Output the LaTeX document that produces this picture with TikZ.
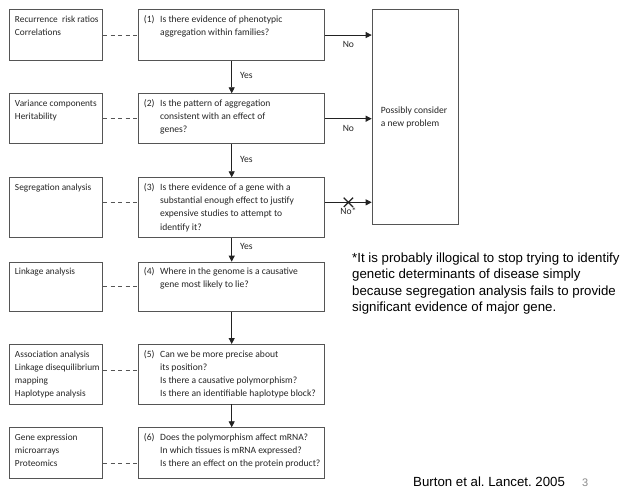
\documentclass[tikz,border=0pt]{standalone}
\usepackage{fontspec}
\setmainfont{Carlito}
\newfontfamily\arialf{Liberation Sans}
\usetikzlibrary{arrows.meta,calc,shapes.misc}
\definecolor{boxc}{HTML}{555555}
\definecolor{txtc}{HTML}{262626}
\definecolor{arrc}{HTML}{222222}
\definecolor{pgc}{HTML}{8A8A8A}
\newcommand{\qn}[1]{\makebox[16.3bp][l]{#1}}
\frenchspacing
\begin{document}
\begin{tikzpicture}[x=1bp,y=-1bp,
  lbox/.style={draw=boxc, line width=0.8bp, anchor=north west, inner sep=0, minimum width=93bp, minimum height=#1},
  mbox/.style={draw=boxc, line width=0.8bp, anchor=north west, inner sep=0, minimum width=186bp, minimum height=#1},
  btxt/.style={anchor=base west, inner sep=0, text=txtc, font=\fontsize{9.6}{13.3}\selectfont},
  ltxt/.style={btxt, font=\fontsize{9.35}{13.3}\selectfont},
  flow/.style={draw=arrc, line width=0.8bp, -{Triangle[length=6bp,width=6bp]}},
  dashline/.style={draw=boxc, line width=0.8bp, dash pattern=on 4bp off 3.5bp},
  lab/.style={inner sep=0, text=txtc, font=\fontsize{9.6}{11}\selectfont},
  crossmark/.style={cross out, draw=arrc, line width=1.3bp, minimum size=8bp, inner sep=0}
]
\useasboundingbox[fill=white] (0,0) rectangle (635,499);

% left boxes
\node[lbox=50.7bp] (l1) at (9.3,9.3) {};
\node[lbox=50bp]   (l2) at (9.3,93.3) {};
\node[lbox=59.4bp] (l3) at (9.3,177.3) {};
\node[lbox=49.3bp] (l4) at (9.3,261.7) {};
\node[lbox=59.5bp] (l5) at (9.3,344) {};
\node[lbox=51bp]   (l6) at (9.3,427.3) {};
% middle boxes
\node[mbox=50.7bp] (m1) at (138.3,9.3) {};
\node[mbox=50bp]   (m2) at (138.3,93.3) {};
\node[mbox=59.4bp] (m3) at (138.3,177.3) {};
\node[mbox=49.3bp] (m4) at (138.3,261.7) {};
\node[mbox=59.5bp] (m5) at (138.3,344) {};
\node[mbox=51bp]   (m6) at (138.3,427.3) {};
% right box
\node[draw=boxc, line width=0.8bp, anchor=north west, inner sep=0, minimum width=86.6bp, minimum height=214.7bp] (r) at (371.7,9.3) {};

% left texts
\node[ltxt] (tl1) at ([xshift=5.5bp,yshift=-13bp]l1.north west) {\begin{tabular}[t]{@{}l@{}}Recurrence\ \ risk ratios\\Correlations\end{tabular}};
\node[ltxt] (tl2) at ([xshift=5.5bp,yshift=-13bp]l2.north west) {\begin{tabular}[t]{@{}l@{}}Variance components\\Heritability\end{tabular}};
\node[ltxt] (tl3) at ([xshift=5.5bp,yshift=-13bp]l3.north west) {Segregation analysis};
\node[ltxt] (tl4) at ([xshift=5.5bp,yshift=-13bp]l4.north west) {Linkage analysis};
\node[ltxt] (tl5) at ([xshift=5.5bp,yshift=-13bp]l5.north west) {\begin{tabular}[t]{@{}l@{}}Association analysis\\Linkage disequilibrium\\mapping\\Haplotype analysis\end{tabular}};
\node[ltxt] (tl6) at ([xshift=5.5bp,yshift=-13bp]l6.north west) {\begin{tabular}[t]{@{}l@{}}Gene expression\\microarrays\\Proteomics\end{tabular}};

% middle texts
\node[btxt] (tm1) at ([xshift=5.4bp,yshift=-13bp]m1.north west) {\begin{tabular}[t]{@{}l@{}l@{}}\qn{(1)}&Is there evidence of phenotypic\\&aggregation within families?\end{tabular}};
\node[btxt] (tm2) at ([xshift=5.4bp,yshift=-13bp]m2.north west) {\begin{tabular}[t]{@{}l@{}l@{}}\qn{(2)}&Is the pattern of aggregation\\&consistent with an effect of\\&genes?\end{tabular}};
\node[btxt] (tm3) at ([xshift=5.4bp,yshift=-13bp]m3.north west) {\begin{tabular}[t]{@{}l@{}l@{}}\qn{(3)}&Is there evidence of a gene with a\\&substantial enough effect to justify\\&expensive studies to attempt to\\&identify it?\end{tabular}};
\node[btxt] (tm4) at ([xshift=5.4bp,yshift=-13bp]m4.north west) {\begin{tabular}[t]{@{}l@{}l@{}}\qn{(4)}&Where in the genome is a causative\\&gene most likely to lie?\end{tabular}};
\node[btxt] (tm5) at ([xshift=5.4bp,yshift=-13bp]m5.north west) {\begin{tabular}[t]{@{}l@{}l@{}}\qn{(5)}&Can we be more precise about\\&its position?\\&Is there a causative polymorphism?\\&Is there an identifiable haplotype block?\end{tabular}};
\node[btxt] (tm6) at ([xshift=5.4bp,yshift=-13bp]m6.north west) {\begin{tabular}[t]{@{}l@{}l@{}}\qn{(6)}&Does the polymorphism affect mRNA?\\&In which tissues is mRNA expressed?\\&Is there an effect on the protein product?\end{tabular}};

% right text
\node[btxt, anchor=west] (tr) at ([xshift=9bp]r.west) {\begin{tabular}{@{}l@{}}Possibly consider\\a new problem\end{tabular}};

% dashed links
\draw[dashline] (l1.east) -- (m1.west);
\draw[dashline] (l2.east) -- (m2.west);
\draw[dashline] ($(l3.north east)!0.416!(l3.south east)$) -- ($(m3.north west)!0.416!(m3.south west)$);
\draw[dashline] (l4.east) -- (m4.west);
\draw[dashline] ($(l5.north east)!0.44!(l5.south east)$) -- ($(m5.north west)!0.44!(m5.south west)$);
\draw[dashline] ($(l6.north east)!0.70!(l6.south east)$) -- ($(m6.north west)!0.70!(m6.south west)$);

% vertical flow
\draw[flow] (m1.south) -- node[lab, anchor=west, xshift=8bp, pos=0.45] (y1) {Yes} (m2.north);
\draw[flow] (m2.south) -- node[lab, anchor=west, xshift=8bp, pos=0.45] (y2) {Yes} (m3.north);
\draw[flow] (m3.south) -- node[lab, anchor=west, xshift=8bp, pos=0.38] (y3) {Yes} (m4.north);
\draw[flow] (m4.south) -- (m5.north);
\draw[flow] (m5.south) -- (m6.north);

% no arrows
\draw[flow] (m1.east) -- node[lab, anchor=north, yshift=-6bp] (n1) {No} (m1.east -| r.west);
\draw[flow] (m2.east) -- node[lab, anchor=north, yshift=-6bp] (n2) {No} (m2.east -| r.west);
\coordinate (m3o) at ($(m3.north east)!0.416!(m3.south east)$);
\draw[flow] (m3o) -- node[crossmark] (x3) {} node[lab, anchor=north, yshift=-5bp] (n3) {No*} (m3o -| r.west);

% note
\node[anchor=base west, inner sep=0, align=left, font=\arialf\fontsize{13.3}{16.4}\selectfont, text=black] (note) at (352,262.5) {\begin{tabular}[t]{@{}l@{}}*It is probably illogical to stop trying to identify\\genetic determinants of disease simply\\because segregation analysis fails to provide\\significant evidence of major gene.\end{tabular}};
\node[anchor=base west, inner sep=0, font=\arialf\fontsize{13.3}{16}\selectfont, text=black] (cite) at (413,486.5) {Burton et al. Lancet. 2005};
\node[anchor=base west, inner sep=0, font=\arialf\fontsize{11}{13}\selectfont, text=pgc] (pg) at (582,486.5) {3};
\end{tikzpicture}
\end{document}
